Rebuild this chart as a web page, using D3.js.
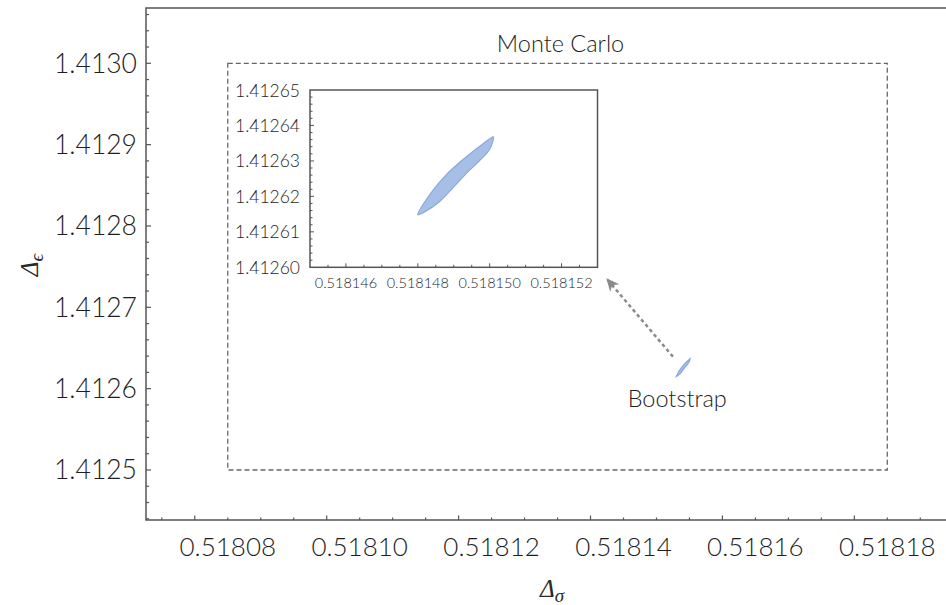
<!DOCTYPE html>
<html>
<head>
<meta charset="utf-8">
<script src="https://cdn.jsdelivr.net/npm/d3@7"></script>
<style>
  body { margin: 0; background: #fff; }
  text { font-family: Lato, "Open Sans", sans-serif; font-weight: 300; fill: #1e1e1e; }
  .sym { font-family: "Liberation Serif", "DejaVu Serif", serif; font-style: italic; font-weight: 400; fill: #2a2a2a; }
</style>
</head>
<body>
<div id="chart"></div>
<script>
const width = 946;
const height = 605;

// tick labels of the main plot and the inset
const mainXTicks = [0.51808, 0.51810, 0.51812, 0.51814, 0.51816, 0.51818];
const mainYTicks = [1.4125, 1.4126, 1.4127, 1.4128, 1.4129, 1.4130];
const insetXTicks = [0.518146, 0.518148, 0.518150, 0.518152];
const insetYTicks = [1.41260, 1.41261, 1.41262, 1.41263, 1.41264, 1.41265];

// outline of the bootstrap region (upper edge, then back along lower edge)
const regionX = [0.5181480, 0.5181484, 0.5181488, 0.5181492, 0.5181495, 0.5181498, 0.5181501,
                 0.5181500, 0.5181497, 0.5181494, 0.5181490, 0.5181486, 0.5181482];
const regionY = [1.4126148, 1.4126214, 1.4126262, 1.4126299, 1.4126324, 1.4126347, 1.4126368,
                 1.4126333, 1.4126299, 1.4126270, 1.4126227, 1.4126185, 1.4126157];

// Monte Carlo box corners
const monteX = [0.51808, 0.51818];
const monteY = [1.4125, 1.4130];

// arrow from bootstrap region to inset
const arrowX = [0.5181475, 0.5181374];
const arrowY = [1.4126393, 1.4127357];

const labels = { monte: "Monte Carlo", boot: "Bootstrap" };

const axisColor = "#555";
const fillColor = "#a6bfe6";
const edgeColor = "#8ca8d8";

const svg = d3.select("#chart")
  .append("svg")
  .attr("width", width)
  .attr("height", height);

svg.append("defs").append("marker")
  .attr("id", "head")
  .attr("markerUnits", "userSpaceOnUse")
  .attr("viewBox", "-14 -7 16 14")
  .attr("markerWidth", 16)
  .attr("markerHeight", 14)
  .attr("refX", 0)
  .attr("refY", 0)
  .attr("orient", "auto")
  .append("path")
  .attr("d", "M0,0 L-13,-6 L-9,0 L-13,6 Z")
  .attr("fill", "#8a8a8a");

// + MAIN SCALES
const xMain = d3.scaleLinear().domain([0.5180676, 0.5181889]).range([146, 946]);
const yMain = d3.scaleLinear().domain([1.4124385, 1.4130680]).range([520, 8]);

const mainX0 = xMain.range()[0], mainX1 = xMain.range()[1];
const mainY0 = yMain.range()[0], mainY1 = yMain.range()[1];

// frame: left axis, bottom axis, top line
svg.append("path")
  .attr("d", `M${mainX1},${mainY1} H${mainX0} V${mainY0} H${mainX1}`)
  .attr("fill", "none")
  .attr("stroke", axisColor)
  .attr("stroke-width", 1.5);

const xMinor = d3.range(0, 25).map(i => 0.51807 + i * 0.000005).filter(v => xMain(v) > mainX0 && xMain(v) < mainX1);
const yMinor = d3.range(0, 33).map(i => 1.41244 + i * 0.00002).filter(v => yMain(v) < mainY0 && yMain(v) > mainY1);

svg.append("g").selectAll("line")
  .data(xMinor)
  .join("line")
  .attr("x1", d => xMain(d)).attr("x2", d => xMain(d))
  .attr("y1", mainY0).attr("y2", (d, i) => mainY0 - (i % 4 === 1 ? 4.5 : 2.5))
  .attr("stroke", axisColor).attr("stroke-width", 1.2);

svg.append("g").selectAll("line")
  .data(yMinor)
  .join("line")
  .attr("y1", d => yMain(d)).attr("y2", d => yMain(d))
  .attr("x1", mainX0).attr("x2", (d, i) => mainX0 + ((i + 2) % 5 === 0 ? 5 : 3))
  .attr("stroke", axisColor).attr("stroke-width", 1.2);

svg.append("g").selectAll("text")
  .data(mainXTicks)
  .join("text")
  .attr("x", d => xMain(d))
  .attr("y", mainY0 + 35.5)
  .attr("text-anchor", "middle")
  .attr("font-size", 26)
  .text(d => d.toFixed(5));

svg.append("g").selectAll("text")
  .data(mainYTicks)
  .join("text")
  .attr("x", mainX0 - 9)
  .attr("y", d => yMain(d) + 9.5)
  .attr("text-anchor", "end")
  .attr("font-size", 26.5)
  .text(d => d.toFixed(4));

// axis titles
const xTitle = svg.append("text")
  .attr("class", "sym")
  .attr("x", 552)
  .attr("y", 597)
  .attr("text-anchor", "middle")
  .attr("font-size", 25);
xTitle.append("tspan").text("Δ");
xTitle.append("tspan").attr("font-size", 19).attr("dy", 5).text("σ");

const yTitle = svg.append("text")
  .attr("class", "sym")
  .attr("transform", "translate(38,265) rotate(-90)")
  .attr("text-anchor", "middle")
  .attr("font-size", 25);
yTitle.append("tspan").text("Δ");
yTitle.append("tspan").attr("font-size", 19).attr("dy", 5).text("ϵ");

// Monte Carlo box
svg.append("rect")
  .attr("x", xMain(monteX[0]))
  .attr("y", yMain(monteY[1]))
  .attr("width", xMain(monteX[1]) - xMain(monteX[0]))
  .attr("height", yMain(monteY[0]) - yMain(monteY[1]))
  .attr("fill", "none")
  .attr("stroke", "#666")
  .attr("stroke-width", 1.3)
  .attr("stroke-dasharray", "5,3");

svg.append("text")
  .attr("x", (xMain(monteX[0]) + xMain(monteX[1])) / 2 + 3)
  .attr("y", 51.7)
  .attr("text-anchor", "middle")
  .attr("font-size", 23.5)
  .text(labels.monte);

// bootstrap region in the main plot
const points = regionX.map((x, i) => [x, regionY[i]]);
const mainLine = d3.line().x(d => xMain(d[0])).y(d => yMain(d[1])).curve(d3.curveLinearClosed);

svg.append("path")
  .attr("d", mainLine(points))
  .attr("fill", fillColor)
  .attr("stroke", edgeColor)
  .attr("stroke-width", 1.2);

svg.append("text")
  .attr("x", xMain(regionX[0]) + 1)
  .attr("y", 406.5)
  .attr("text-anchor", "middle")
  .attr("font-size", 23.5)
  .text(labels.boot);

svg.append("line")
  .attr("x1", xMain(arrowX[0])).attr("y1", yMain(arrowY[0]))
  .attr("x2", xMain(arrowX[1])).attr("y2", yMain(arrowY[1]))
  .attr("stroke", "#8a8a8a")
  .attr("stroke-width", 2.5)
  .attr("stroke-dasharray", "3.5,3")
  .attr("marker-end", "url(#head)");

// + INSET
const xIn = d3.scaleLinear().domain([0.518145, 0.518153]).range([310, 597.5]);
const yIn = d3.scaleLinear().domain([1.41260, 1.41265]).range([267.3, 90]);

const inset = svg.append("g");

inset.append("rect")
  .attr("x", xIn.range()[0])
  .attr("y", yIn.range()[1])
  .attr("width", xIn.range()[1] - xIn.range()[0])
  .attr("height", yIn.range()[0] - yIn.range()[1])
  .attr("fill", "#fff")
  .attr("stroke", axisColor)
  .attr("stroke-width", 1.5);

const inXMinor = d3.range(0, 17).map(i => 0.518145 + i * 0.0000005).filter(v => xIn(v) > 311 && xIn(v) < 596);
const inYMinor = d3.range(0, 26).map(i => 1.41260 + i * 0.000002).filter(v => yIn(v) < 266 && yIn(v) > 91);

inset.append("g").selectAll("line")
  .data(inXMinor)
  .join("line")
  .attr("x1", d => xIn(d)).attr("x2", d => xIn(d))
  .attr("y1", yIn.range()[0])
  .attr("y2", d => yIn.range()[0] - (insetXTicks.some(t => Math.abs(t - d) < 1e-9) ? 4 : 2.5))
  .attr("stroke", axisColor).attr("stroke-width", 1);

inset.append("g").selectAll("line")
  .data(inYMinor)
  .join("line")
  .attr("y1", d => yIn(d)).attr("y2", d => yIn(d))
  .attr("x1", xIn.range()[0])
  .attr("x2", d => xIn.range()[0] + (insetYTicks.some(t => Math.abs(t - d) < 1e-9) ? 4 : 2.5))
  .attr("stroke", axisColor).attr("stroke-width", 1);

inset.append("g").selectAll("text")
  .data(insetXTicks)
  .join("text")
  .attr("x", d => xIn(d))
  .attr("y", yIn.range()[0] + 21)
  .attr("text-anchor", "middle")
  .attr("font-size", 14.5)
  .text(d => d.toFixed(6));

inset.append("g").selectAll("text")
  .data(insetYTicks)
  .join("text")
  .attr("x", xIn.range()[0] - 10)
  .attr("y", d => yIn(d) + 6.5)
  .attr("text-anchor", "end")
  .attr("font-size", 17.5)
  .text(d => d.toFixed(5));

const insetLine = d3.line().x(d => xIn(d[0])).y(d => yIn(d[1])).curve(d3.curveCatmullRomClosed.alpha(0.5));

inset.append("path")
  .attr("d", insetLine(points))
  .attr("fill", fillColor)
  .attr("stroke", edgeColor)
  .attr("stroke-width", 1.2);
</script>
</body>
</html>
